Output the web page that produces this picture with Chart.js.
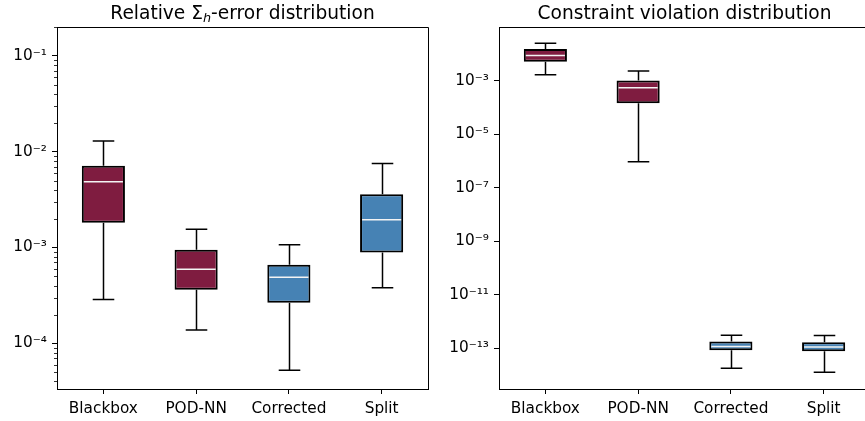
<!DOCTYPE html>
<html>
<head>
<meta charset="utf-8">
<script src="https://cdn.jsdelivr.net/npm/chart.js@4.4.1/dist/chart.umd.min.js"></script>
<style>
  html, body { margin: 0; padding: 0; background: #fff; overflow: hidden; }
  #wrap { position: relative; width: 865px; height: 421px; overflow: hidden; }
  canvas { position: absolute; top: 0; }
  #errChart { left: 0; }
  #cvChart { left: 430px; }
</style>
</head>
<body>
<div id="wrap">
  <canvas id="errChart" width="432" height="421"></canvas>
  <canvas id="cvChart" width="442" height="421"></canvas>
</div>
<script>
const categories = ["Blackbox", "POD-NN", "Corrected", "Split"];

// relative Sigma_h error (left panel)
const errMin = [2.87e-4, 1.38e-4, 5.23e-5, 3.8e-4];
const errQ1 = [1.81e-3, 3.63e-4, 2.65e-4, 8.87e-4];
const errMedian = [4.87e-3, 5.94e-4, 4.91e-4, 1.95e-3];
const errQ3 = [7.15e-3, 9.46e-4, 6.6e-4, 3.6e-3];
const errMax = [1.29e-2, 1.55e-3, 1.07e-3, 7.55e-3];

// constraint violation (right panel)
const cvMin = [1.63e-3, 9.25e-7, 1.8e-14, 1.27e-14];
const cvQ1 = [4.99e-3, 1.43e-4, 8.4e-14, 7.7e-14];
const cvMedian = [8.6e-3, 5.34e-4, 1.16e-13, 1.12e-13];
const cvQ3 = [1.52e-2, 1.0e-3, 1.78e-13, 1.68e-13];
const cvMax = [2.49e-2, 2.25e-3, 3.05e-13, 2.98e-13];

const errTicks = [1e-4, 1e-3, 1e-2, 1e-1];
const errTickLabels = ["10\u207B\u2074", "10\u207B\u00B3", "10\u207B\u00B2", "10\u207B\u00B9"];
const cvTicks = [1e-13, 1e-11, 1e-9, 1e-7, 1e-5, 1e-3];
const cvTickLabels = ["10\u207B\u00B9\u00B3", "10\u207B\u00B9\u00B9", "10\u207B\u2079", "10\u207B\u2077", "10\u207B\u2075", "10\u207B\u00B3"];

const MAROON = "#7f1c40";
const STEEL = "#4682b4";
const boxColors = [MAROON, MAROON, STEEL, STEEL];
const FONT = "DejaVu Sans";

// whiskers + caps behind the boxes, medians on top, frame and title last
const boxPlotPlugin = {
	id: "boxParts",
	beforeDatasetsDraw(chart, args, opts) {
		const { ctx } = chart;
		const y = chart.scales.y;
		const meta = chart.getDatasetMeta(0);
		ctx.save();
		ctx.strokeStyle = "#000";
		ctx.lineWidth = 1.5;
		meta.data.forEach((bar, i) => {
			const x = Math.round(bar.x) + 0.5;
			const cap = bar.width / 4;
			const yMin = y.getPixelForValue(opts.min[i]);
			const yQ1 = y.getPixelForValue(opts.q1[i]);
			const yQ3 = y.getPixelForValue(opts.q3[i]);
			const yMax = y.getPixelForValue(opts.max[i]);
			ctx.beginPath();
			ctx.moveTo(x, yQ3);
			ctx.lineTo(x, yMax);
			ctx.moveTo(x - cap, yMax);
			ctx.lineTo(x + cap, yMax);
			ctx.moveTo(x, yQ1);
			ctx.lineTo(x, yMin);
			ctx.moveTo(x - cap, yMin);
			ctx.lineTo(x + cap, yMin);
			ctx.stroke();
		});
		ctx.restore();
	},
	afterDatasetsDraw(chart, args, opts) {
		const { ctx, chartArea } = chart;
		const y = chart.scales.y;
		const meta = chart.getDatasetMeta(0);
		ctx.save();
		ctx.strokeStyle = "#f4f4f4";
		ctx.lineWidth = 1.5;
		meta.data.forEach((bar, i) => {
			const ym = y.getPixelForValue(opts.median[i]);
			ctx.beginPath();
			ctx.moveTo(bar.x - bar.width / 2 + 2, ym);
			ctx.lineTo(bar.x + bar.width / 2 - 2, ym);
			ctx.stroke();
		});

		// minor log ticks
		if (opts.minor) {
			ctx.strokeStyle = "#000";
			ctx.lineWidth = 0.8;
			for (let d = -6; d <= 0; d++) {
				for (let k = 2; k <= 9; k++) {
					const v = k * Math.pow(10, d);
					if (v < y.min || v > y.max) continue;
					const py = Math.round(y.getPixelForValue(v)) + 0.5;
					ctx.beginPath();
					ctx.moveTo(chartArea.left - 3, py);
					ctx.lineTo(chartArea.left, py);
					ctx.stroke();
				}
			}
		}

		// top / right spines
		ctx.strokeStyle = "#000";
		ctx.lineWidth = 1;
		ctx.beginPath();
		ctx.moveTo(chartArea.left, chartArea.top + 0.5);
		ctx.lineTo(chartArea.right + 0.5, chartArea.top + 0.5);
		ctx.lineTo(chartArea.right + 0.5, chartArea.bottom);
		ctx.stroke();
		ctx.restore();
	},
	afterDraw(chart, args, opts) {
		const { ctx, chartArea } = chart;
		const parts = opts.title;
		ctx.save();
		ctx.fillStyle = "#000";
		ctx.textBaseline = "alphabetic";
		const fontOf = (p) => (p.sub ? "italic 12.8px " : "18.6px ") + "'" + FONT + "'";
		let total = 0;
		parts.forEach((p) => {
			ctx.font = fontOf(p);
			total += ctx.measureText(p.text).width;
		});
		let x = (chartArea.left + chartArea.right) / 2 - total / 2;
		const base = chartArea.top - 8.5;
		parts.forEach((p) => {
			ctx.font = fontOf(p);
			ctx.fillText(p.text, x, p.sub ? base + 3.5 : base);
			x += ctx.measureText(p.text).width;
		});
		ctx.restore();
	},
};

function makeBoxChart(canvasId, cfg) {
	return new Chart(document.getElementById(canvasId), {
		type: "bar",
		data: {
			labels: categories,
			datasets: [
				{
					data: categories.map((c, i) => [cfg.q1[i], cfg.q3[i]]),
					backgroundColor: boxColors,
					borderColor: "#000",
					borderWidth: 2,
					borderSkipped: false,
					categoryPercentage: 1,
					barPercentage: 0.465,
				},
			],
		},
		options: {
			responsive: false,
			animation: false,
			layout: { padding: { top: 27, right: cfg.padRight, left: 0, bottom: 0 } },
			plugins: {
				legend: { display: false },
				tooltip: { enabled: false },
				title: { display: false },
				boxParts: {
					min: cfg.min,
					q1: cfg.q1,
					median: cfg.median,
					q3: cfg.q3,
					max: cfg.max,
					minor: cfg.minor,
					title: cfg.title,
				},
			},
			scales: {
				x: {
					type: "category",
					offset: true,
					afterFit: (s) => {
						s.height = 32;
					},
					grid: { offset: false, drawOnChartArea: false, tickLength: 5, color: "#000", tickWidth: 1 },
					border: { color: "#000", width: 1 },
					ticks: { color: "#000", font: { family: FONT, size: 15.3 }, padding: 6, maxRotation: 0 },
				},
				y: {
					type: "logarithmic",
					min: cfg.yMin,
					max: cfg.yMax,
					afterFit: (s) => {
						s.width = cfg.yWidth;
					},
					afterBuildTicks: (s) => {
						s.ticks = cfg.ticks.map((v) => ({ value: v }));
					},
					grid: { drawOnChartArea: false, tickLength: 5, color: "#000", tickWidth: 1 },
					border: { color: "#000", width: 1 },
					ticks: {
						color: "#000",
						font: { family: FONT, size: 15.3 },
						padding: 5,
						autoSkip: false,
						callback: (v, i) => cfg.tickLabels[i],
					},
				},
			},
		},
		plugins: [boxPlotPlugin],
	});
}

makeBoxChart("errChart", {
	min: errMin,
	q1: errQ1,
	median: errMedian,
	q3: errQ3,
	max: errMax,
	yMin: 3.34e-5,
	yMax: 0.2,
	ticks: errTicks,
	tickLabels: errTickLabels,
	minor: true,
	yWidth: 57,
	padRight: 4,
	title: [{ text: "Relative \u03A3" }, { text: "h", sub: true }, { text: "-error distribution" }],
});

makeBoxChart("cvChart", {
	min: cvMin,
	q1: cvQ1,
	median: cvMedian,
	q3: cvQ3,
	max: cvMax,
	yMin: 3.1e-15,
	yMax: 0.1,
	ticks: cvTicks,
	tickLabels: cvTickLabels,
	minor: false,
	yWidth: 69,
	padRight: 2,
	title: [{ text: "Constraint violation distribution" }],
});
</script>
</body>
</html>
